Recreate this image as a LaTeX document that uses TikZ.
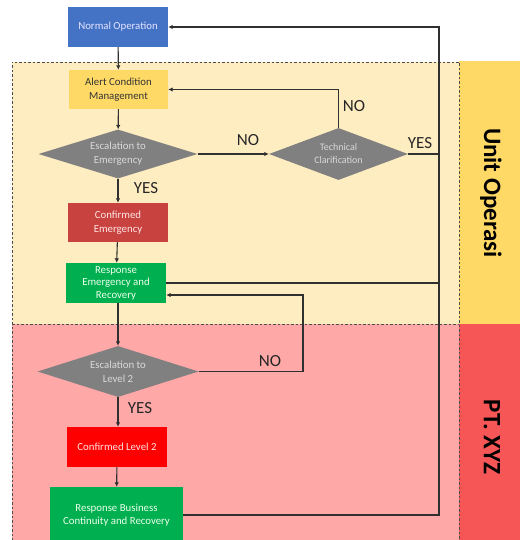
\documentclass[tikz,border=0pt]{standalone}
\usepackage{fontspec}
\setmainfont{Carlito}
\usetikzlibrary{shapes.geometric,arrows.meta}

\definecolor{opblue}{HTML}{4472C4}
\definecolor{alertyellow}{HTML}{FFD966}
\definecolor{softyellow}{HTML}{FFEDC2}
\definecolor{softred}{HTML}{FFA8A8}
\definecolor{bandred}{HTML}{F75656}
\definecolor{decgray}{HTML}{808080}
\definecolor{emred}{HTML}{C8433F}
\definecolor{lvred}{HTML}{FF0000}
\definecolor{okgreen}{HTML}{00B050}
\definecolor{wire}{HTML}{303030}

\begin{document}
\begin{tikzpicture}[x=1pt, y=-1pt,
  box/.style = {shape=rectangle, align=center, inner sep=0pt,
    minimum width=100pt, minimum height=40pt,
    font=\fontsize{10.8}{13.5}\selectfont},
  decision/.style = {shape=diamond, aspect=3, inner sep=0pt,
    fill=decgray, text=white!85!black, align=center,
    font=\fontsize{10.8}{14}\selectfont},
  link/.style = {draw=wire, line width=1.1pt},
  arrow/.style = {link, -{Latex[length=4.5pt,width=4.5pt]}},
  answer/.style = {font=\fontsize{17}{17}\selectfont, text=black!85},
  lane/.style = {font=\bfseries\fontsize{25}{25}\selectfont, rotate=-90},
  zone/.style = {draw=black!70, line width=0.8pt, dash pattern=on 2.5pt off 2pt}]
  \useasboundingbox (0,0) rectangle (520,540);
  \clip (0,0) rectangle (520,540);

  \fill[softyellow] (12,62) rectangle (459,324);
  \fill[softred] (12,324) rectangle (459,545);
  \fill[alertyellow] (459,61) rectangle (520,324);
  \fill[bandred] (459,324) rectangle (520,545);
  \draw[zone] (12,545) -- (12,62) -- (459,62) -- (459,545);
  \draw[zone] (12,324) -- (459,324);

  \node[lane] (unit) at (491,193) {Unit Operasi};
  \node[lane] (pt) at (492,437) {PT. XYZ};

  \node[box, fill=opblue, text=white!90!blue] (norm) at (118,27) {Normal Operation};
  \node[box, fill=alertyellow, text=black!80, minimum width=99pt, minimum height=39pt]
    (alert) at (118.5,89.5) {Alert Condition\\Management};
  \node[decision, minimum width=159pt, minimum height=49pt]
    (esc1) at (118,154) {Escalation to\\Emergency};
  \node[decision, minimum width=139pt, minimum height=52pt,
    font=\fontsize{10}{13}\selectfont] (tech) at (338.5,154) {Technical\\Clarification};
  \node[box, fill=emred, text=white!90!red, minimum height=39pt]
    (confE) at (118,222.5) {Confirmed\\Emergency};
  \node[box, fill=okgreen, text=white!92!green, font=\fontsize{10.8}{12.5}\selectfont]
    (respE) at (116,283) {Response\\Emergency and\\Recovery};
  \node[decision, minimum width=161pt, minimum height=51pt]
    (esc2) at (118,371.5) {Escalation to\\Level 2};
  \node[box, fill=lvred, text=white!90!red] (confL) at (117,447) {Confirmed Level 2};
  \node[box, fill=okgreen, text=white!92!green, minimum width=133pt, minimum height=56pt]
    (respB) at (116.5,515) {Response Business\\Continuity and Recovery};

  \coordinate (railtop) at (439,27);
  \coordinate (railbot) at (439,515);
  \coordinate (back) at (303,295);

  \draw[arrow] (norm) -- (alert);
  \draw[arrow] (alert) -- (esc1);
  \draw[arrow] (esc1.east) -- (tech.west);
  \draw[arrow] (tech.north) |- (alert.east);
  \draw[arrow] (esc1.south) -- (confE.north);
  \draw[arrow] (confE) -- (respE);
  \draw[arrow] (respE.south -| esc2.north) -- (esc2.north);
  \draw[arrow] (esc2.south) -- (confL.north -| esc2.south);
  \draw[arrow] (confL) -- (respB);
  \draw[arrow] (esc2.east) -| (back) -- (respE.east |- back);
  \draw[arrow] (respB.east) -- (railbot) -- (railtop) -- (norm.east);
  \draw[link] (tech.east) -- (tech.east -| railtop);
  \draw[link] (respE.east) -- (respE.east -| railtop);

  \node[answer] (no1) at (248,140) {NO};
  \node[answer] (no2) at (354,106) {NO};
  \node[answer] (yes1) at (420,143) {YES};
  \node[answer] (yes2) at (146,188) {YES};
  \node[answer] (no3) at (270,361) {NO};
  \node[answer] (yes3) at (140,408) {YES};
\end{tikzpicture}
\end{document}
